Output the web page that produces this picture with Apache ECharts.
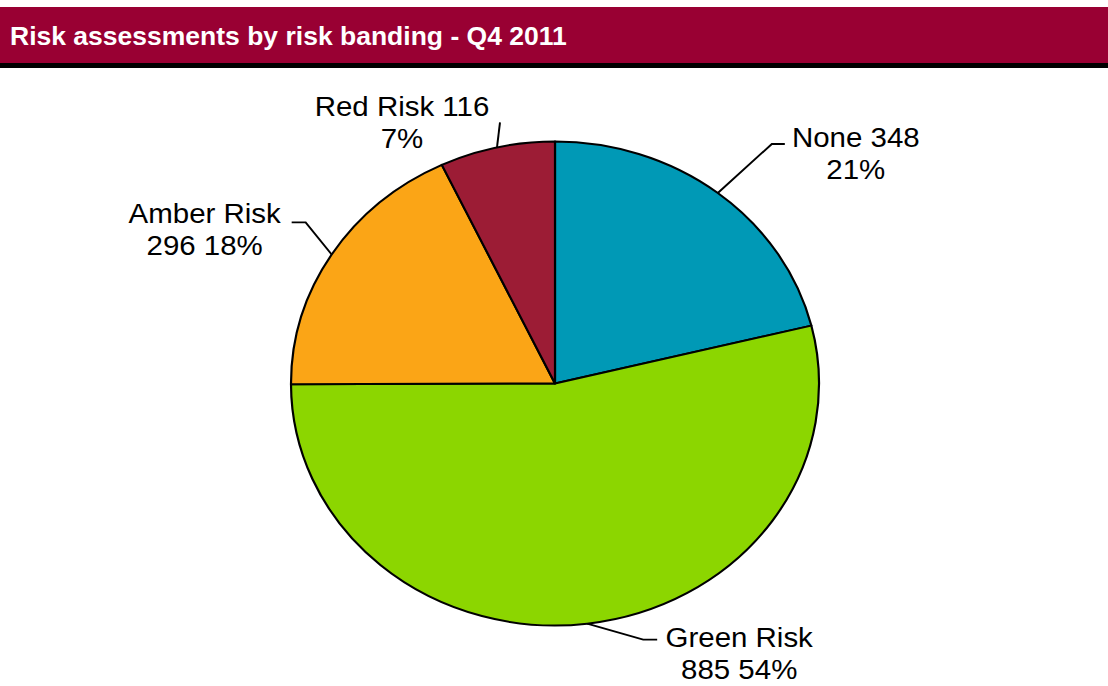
<!DOCTYPE html>
<html>
<head>
<meta charset="utf-8">
<script src="https://cdn.jsdelivr.net/npm/echarts@6/dist/echarts.min.js"></script>
<style>
  html, body { margin: 0; padding: 0; background: #ffffff; }
  #wrap { position: relative; width: 1108px; height: 686px; overflow: hidden; }
  #pie { position: absolute; left: 0; top: 0; height: 686px; transform-origin: 0 0; }
  #head { position: absolute; left: 0; top: 0; width: 1108px; height: 72px; }
</style>
</head>
<body>
<div id="wrap">
  <div id="pie"></div>
  <div id="head"></div>
</div>
<script>
// ---- data ----
const titleText = 'Risk assessments by risk banding - Q4 2011';
const categories = ['None', 'Green Risk', 'Amber Risk', 'Red Risk'];
const counts = [348, 885, 296, 116];
const breakAfterName = [false, true, true, false];
const sliceColors = ['#0099B6', '#8CD600', '#FBA516', '#9C1C35'];

// ---- layout (page pixels) ----
const S = 264 / 242;             // horizontal stretch of the pie (ellipse)
const R = 242;
const CX = 555 / S, CY = 383.5;
const leader = [[54, -49, 13], [56, 16, 14], [-26, -32, -14], [3, -25, 0]];
const labelOff = [[138, -40], [152, 30], [-127, -25], [-95, -25]];

const total = counts.reduce((a, b) => a + b, 0);

const pieDiv = document.getElementById('pie');
pieDiv.style.width = (1108 / S) + 'px';
pieDiv.style.transform = 'scaleX(' + S + ')';

const pieChart = echarts.init(pieDiv, null, { renderer: 'svg' });
pieChart.setOption({
  animation: false,
  series: [{
    type: 'pie',
    silent: true,
    center: [CX, CY],
    radius: R,
    startAngle: 90,
    clockwise: true,
    percentPrecision: 0,
    emphasis: { disabled: true },
    itemStyle: { borderColor: '#000000', borderWidth: 2 },
    label: {
      show: true,
      position: 'outside',
      fontFamily: 'Liberation Sans, Arial, sans-serif',
      fontSize: 27,
      lineHeight: 32,
      color: '#000000',
      align: 'center',
      formatter: function (p) {
        const i = p.dataIndex;
        return breakAfterName[i]
          ? p.name + '\n' + p.value + ' ' + p.percent + '%'
          : p.name + ' ' + p.value + '\n' + p.percent + '%';
      }
    },
    labelLine: { show: true, lineStyle: { color: '#000000', width: 1.8 } },
    labelLayout: function (params) {
      const i = params.dataIndex;
      let before = 0;
      for (let k = 0; k < i; k++) before += counts[k];
      const th = (before + counts[i] / 2) / total * Math.PI * 2;
      const p0 = [CX + R * Math.sin(th), CY - R * Math.cos(th)];
      const L = leader[i];
      const p1 = [p0[0] + L[0] / S, p0[1] + L[1]];
      const p2 = [p1[0] + L[2] / S, p1[1]];
      return {
        x: p0[0] + labelOff[i][0] / S,
        y: p0[1] + labelOff[i][1],
        align: 'center',
        verticalAlign: 'middle',
        labelLinePoints: [p0, p1, p2]
      };
    },
    data: categories.map((c, i) => ({ name: c, value: counts[i], itemStyle: { color: sliceColors[i] } }))
  }]
});

const headChart = echarts.init(document.getElementById('head'), null, { renderer: 'svg' });
headChart.setOption({
  animation: false,
  graphic: [
    { type: 'rect', shape: { x: 0, y: 7, width: 1108, height: 56 }, style: { fill: '#990033' }, z: 0 },
    { type: 'rect', shape: { x: 0, y: 63, width: 1108, height: 5 }, style: { fill: '#000000' }, z: 0 }
  ],
  title: {
    text: titleText,
    left: 5,
    top: 17,
    z: 10,
    textStyle: {
      color: '#ffffff',
      fontFamily: 'Liberation Sans, Arial, sans-serif',
      fontWeight: 'bold',
      fontSize: 26.5
    }
  }
});
</script>
</body>
</html>
